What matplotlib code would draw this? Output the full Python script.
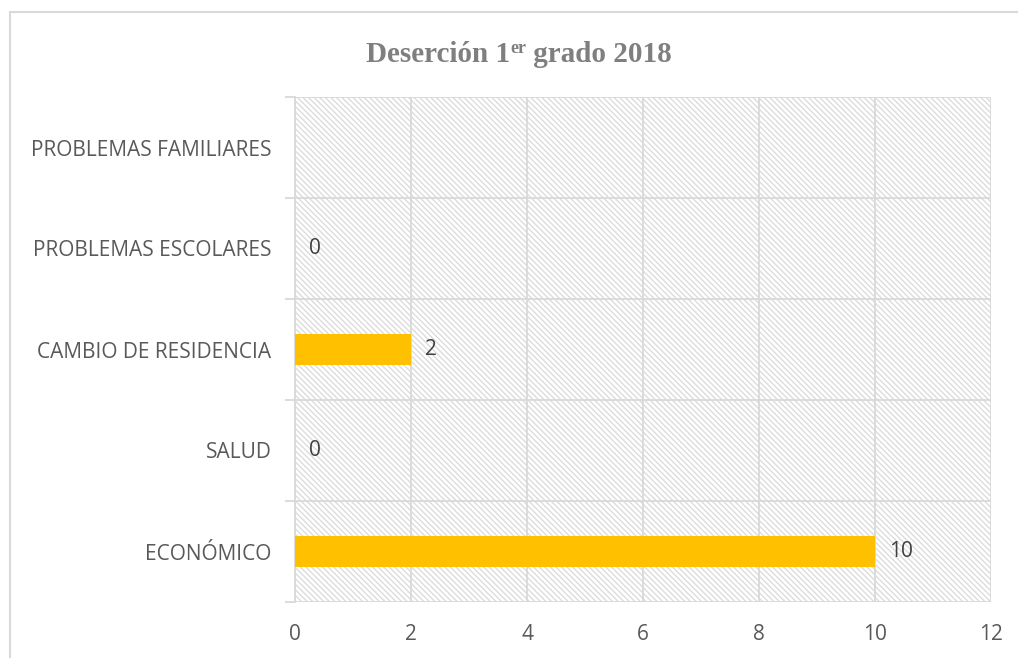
import matplotlib
matplotlib.use("Agg")
import matplotlib.pyplot as plt
from matplotlib.patches import Rectangle
from matplotlib.lines import Line2D

categories = ["ECONÓMICO", "SALUD", "CAMBIO DE RESIDENCIA",
              "PROBLEMAS ESCOLARES", "PROBLEMAS FAMILIARES"]
values = [10, 0, 2, 0, None]
xticks = [0, 2, 4, 6, 8, 10, 12]

grid_c = "#d9d9d9"
text_c = "#595959"
bar_c = "#ffc000"

plt.rcParams["font.family"] = ["Open Sans", "DejaVu Sans"]
plt.rcParams["hatch.linewidth"] = 0.9

fig = plt.figure(figsize=(10.18, 6.58), dpi=100)
ax = fig.add_axes([295 / 1018, 1 - 602 / 658, 696 / 1018, 505 / 658])

# hatched background of the plot area
bg = Rectangle((0, 0), 1, 1, transform=ax.transAxes, facecolor="white",
               edgecolor=grid_c, linewidth=0, hatch="\\" * 6, zorder=0)
ax.add_patch(bg)
ax.set_facecolor("none")

ypos = list(range(len(categories)))
for y, v in zip(ypos, values):
    if v is None:
        continue
    ax.barh(y, v, height=0.3, color=bar_c, zorder=3)
    ax.annotate(str(v), (v, y), xytext=(10, 0), textcoords="offset points",
                va="center", ha="left", fontsize=15, color="#404040")

ax.set_xlim(0, 12)
ax.set_ylim(-0.5, len(categories) - 0.5)
ax.set_xticks(xticks)
ax.set_xticklabels([str(t) for t in xticks])
ax.set_yticks(ypos)
ax.set_yticklabels(categories)
ax.set_yticks([i - 0.5 for i in range(len(categories) + 1)], minor=True)

ax.tick_params(axis="x", length=0, pad=16, labelsize=15, labelcolor=text_c)
ax.tick_params(axis="y", which="major", length=0, pad=17, labelsize=15,
               labelcolor=text_c)
ax.tick_params(axis="y", which="minor", length=7, width=1.3, color=grid_c)

ax.grid(axis="x", color=grid_c, linewidth=1.3, zorder=1)
ax.grid(axis="y", which="minor", color=grid_c, linewidth=1.3, zorder=1)
ax.set_axisbelow(True)
for s in ["top", "right", "bottom"]:
    ax.spines[s].set_visible(False)
ax.spines["left"].set_color(grid_c)
ax.spines["left"].set_linewidth(1.3)

# outer chart border
fig.add_artist(Line2D([10 / 1018, 1], [1 - 12 / 658, 1 - 12 / 658],
                      color=grid_c, linewidth=1.5, transform=fig.transFigure))
fig.add_artist(Line2D([10 / 1018, 10 / 1018], [0, 1 - 12 / 658],
                      color=grid_c, linewidth=1.5, transform=fig.transFigure))

# title with superscript
fig.canvas.draw()
r = fig.canvas.get_renderer()
tfont = dict(family="Liberation Serif", weight="bold", color="#7f7f7f")
ty = 1 - 62 / 658
parts = [("Deserción 1", 21, 0), ("er", 13, 9 / 658), (" grado 2018", 21, 0)]
texts = []
total = 0
for s, size, dy in parts:
    t = fig.text(0, ty + dy, s, fontsize=size, va="baseline", ha="left", **tfont)
    w = t.get_window_extent(r).width
    texts.append((t, w))
    total += w
x0 = (519 - total / 2) / 1018
for t, w in texts:
    t.set_x(x0)
    x0 += w / 1018

fig.savefig("out.png", dpi=100)
